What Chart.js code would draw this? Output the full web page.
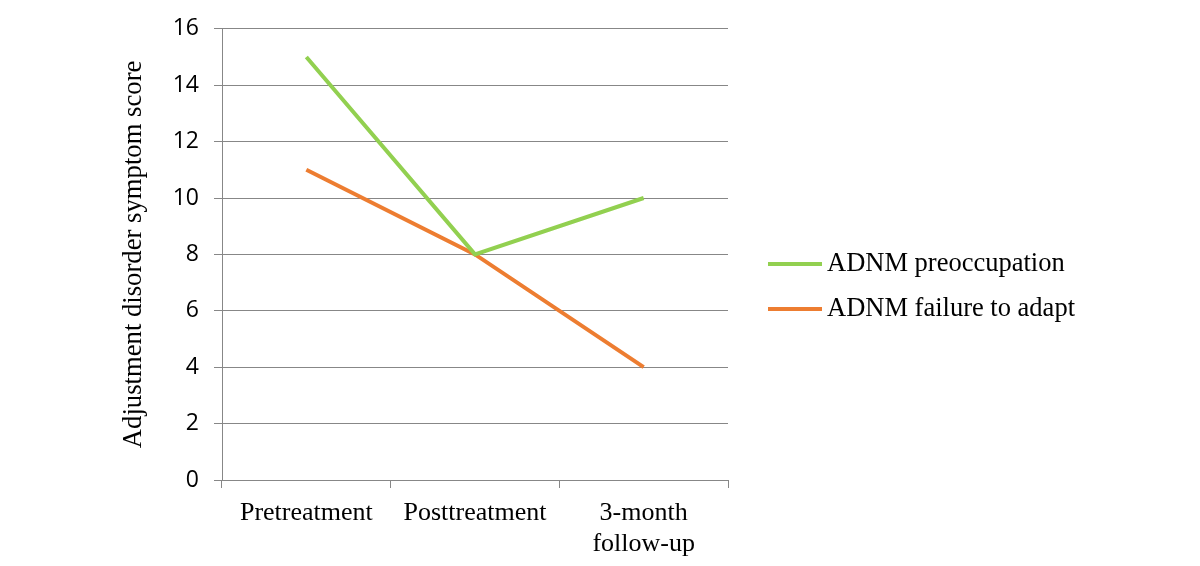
<!DOCTYPE html>
<html>
<head>
<meta charset="utf-8">
<script src="https://cdn.jsdelivr.net/npm/chart.js@4.4.1/dist/chart.umd.min.js"></script>
<style>
  html, body { margin: 0; padding: 0; background: #fff; }
  #wrap { width: 1200px; height: 566px; position: relative; }
</style>
</head>
<body>
<div id="wrap"><canvas id="chart" width="1200" height="566"></canvas></div>
<script>
const categories = ['Pretreatment', 'Posttreatment', ['3-month', 'follow-up']];
const preoccupation = [15, 8, 10];
const failureToAdapt = [11, 8, 4];
const seriesNames = ['ADNM preoccupation', 'ADNM failure to adapt'];
const yTicks = { min: 0, max: 16, step: 2 };

const gridColor = '#878787';
const serif = '"Liberation Serif", "Times New Roman", serif';
const sans = '"Open Sans", "Noto Sans", sans-serif';

// legend drawn at fixed spot to the right of the plot
const sideLegend = {
  id: 'sideLegend',
  afterDraw(chart){
    const ctx = chart.ctx;
    ctx.save();
    chart.data.datasets.forEach((ds, i) => {
      const y = 264 + i * 45;
      ctx.strokeStyle = ds.borderColor;
      ctx.lineWidth = 4;
      ctx.beginPath();
      ctx.moveTo(768, y);
      ctx.lineTo(822, y);
      ctx.stroke();
      ctx.fillStyle = '#000';
      ctx.font = '26.5px ' + serif;
      ctx.textBaseline = 'middle';
      ctx.fillText(ds.label, 827, y);
    });
    ctx.restore();
  }
};

new Chart(document.getElementById('chart'), {
  type: 'line',
  data: {
    labels: categories,
    datasets: [
      { label: seriesNames[0], data: preoccupation, borderColor: '#92D050', borderWidth: 4, pointRadius: 0, tension: 0 },
      { label: seriesNames[1], data: failureToAdapt, borderColor: '#ED7D31', borderWidth: 4, pointRadius: 0, tension: 0 }
    ]
  },
  options: {
    responsive: false,
    animation: false,
    layout: { padding: { left: 0, right: 472, top: 27, bottom: 0 } },
    plugins: { legend: { display: false }, tooltip: { enabled: false } },
    scales: {
      x: {
        offset: true,
        afterFit(scale){ scale.height = 86; },
        grid: { offset: true, drawOnChartArea: false, drawTicks: true, tickLength: 8, color: gridColor },
        border: { display: true, color: gridColor },
        ticks: { color: '#000', font: { family: serif, size: 26, lineHeight: 1.22 }, padding: 9, maxRotation: 0 }
      },
      y: {
        min: yTicks.min, max: yTicks.max,
        afterFit(scale){ scale.width = 222; },
        grid: { color: gridColor, tickLength: 8 },
        border: { display: true, color: gridColor },
        ticks: { stepSize: yTicks.step, color: '#000', font: { family: sans, size: 23 }, padding: 15 },
        title: { display: true, text: 'Adjustment disorder symptom score', color: '#000',
                 font: { family: serif, size: 26.7 }, padding: { top: 118, bottom: 0 } }
      }
    }
  },
  plugins: [sideLegend]
});
</script>
</body>
</html>
